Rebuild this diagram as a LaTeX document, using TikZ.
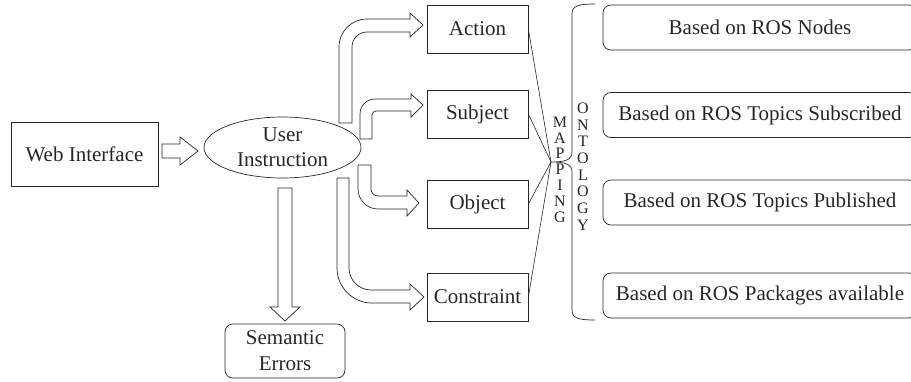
\documentclass[tikz,border=0pt]{standalone}
\usepackage{fontspec}
\setmainfont{Liberation Serif}
\usetikzlibrary{shapes.geometric}
\definecolor{ink}{HTML}{262626}
\begin{document}
\begin{tikzpicture}[x=1pt,y=-1pt,line width=0.7pt,draw=ink,text=ink,
  mainfont/.style={font=\fontsize{21}{25}\selectfont},
  box/.style={draw,mainfont,minimum width=101pt,minimum height=48pt,inner sep=0pt},
  rosbox/.style={draw,mainfont,rounded corners=8pt,minimum width=314pt,minimum height=45pt,inner sep=0pt},
  blockarrow/.style={draw,fill=white,line join=miter},
  letters/.style={inner sep=0pt,align=center,font=\fontsize{16}{15.8}\selectfont},
  mapline/.style={draw,line width=0.6pt}]
\useasboundingbox (0,0) rectangle (911,381);
\clip (0,0) rectangle (911,381);

% main nodes
\node[draw,mainfont,minimum width=147pt,minimum height=64pt,inner sep=0pt] (web) at (84.5,154) {Web Interface};
\node[draw,ellipse,mainfont,align=center,minimum width=157pt,minimum height=61pt,inner sep=0pt] (user) at (282.5,147.5) {User\\Instruction};

\node[box] (action) at (477.5,29) {Action};
\node[box] (subject) at (477.5,114) {Subject};
\node[box] (object) at (477.5,204) {Object};
\node[box] (constraint) at (477.5,297) {Constraint};

\node[draw,rounded corners=8pt,align=center,minimum width=120pt,minimum height=54pt,inner sep=0pt,font=\fontsize{21}{26}\selectfont] (sem) at (285,351) {Semantic\\Errors};

\node[rosbox] (r1) at (760,27.5) {Based on ROS Nodes};
\node[rosbox] (r2) at (760,115) {Based on ROS Topics Subscribed};
\node[rosbox] (r3) at (760,202.5) {Based on ROS Topics Published};
\node[rosbox] (r4) at (760,295.5) {Based on ROS Packages available};

% vertical labels
\node[letters] (mapping) at (560,169.5) {M\\A\\P\\P\\I\\N\\G};
\node[letters,font=\fontsize{16}{16.7}\selectfont] (ontology) at (583,166.5) {O\\N\\T\\O\\L\\O\\G\\Y};

% mapping lines meet at one point
\coordinate (mp) at (551,162);
\foreach \n in {action,subject,object,constraint}
  \draw[mapline] (\n.east) -- (mp);

% ontology brace
\draw[line width=0.7pt] (595,4) .. controls (578,4) and (572,6) .. (572,14) -- (572,152)
  .. controls (572,160) and (565,162) .. (mp)
  .. controls (565,162) and (572,164) .. (572,172) -- (572,310)
  .. controls (572,318) and (578,320) .. (595,320);

% block arrows
\draw[blockarrow] (162,144) -- (180,144) -- (180,137) -- (198,151) -- (180,165) -- (180,158) -- (162,158) -- cycle;

\draw[blockarrow] (339,123) -- (339,47) .. controls (339,31.5) and (351.5,19) .. (367,19)
  -- (410,19) -- (410,13) -- (423,25) -- (410,37) -- (410,32) -- (367,32)
  .. controls (358.7,32) and (352,38.7) .. (352,47) -- (352,123) -- cycle;

\draw[blockarrow] (360,139) -- (360,114) .. controls (360,105.7) and (366.7,99) .. (375,99)
  -- (411,99) -- (411,94) -- (423,105) -- (411,117) -- (411,111) -- (376,111)
  .. controls (373.8,111) and (372,112.8) .. (372,115) -- (372,139) -- cycle;

\draw[blockarrow] (358,165) -- (358,189) .. controls (358,200) and (367,209) .. (378,209)
  -- (407,209) -- (407,216) -- (419,203) -- (407,190) -- (407,196) -- (378,196)
  .. controls (374.1,196) and (371,192.9) .. (371,189) -- (371,165) -- cycle;

\draw[blockarrow] (337,178) -- (337,268) .. controls (337,287.3) and (352.7,303) .. (372,303)
  -- (410,303) -- (410,310) -- (424,297) -- (410,284) -- (410,290) -- (371,290)
  .. controls (358.9,290) and (349,280.1) .. (349,268) -- (349,178) -- cycle;

\draw[blockarrow] (278,188) -- (278,307) -- (270,307) -- (285,321) -- (300,307) -- (292,307) -- (292,188) -- cycle;
\end{tikzpicture}
\end{document}
